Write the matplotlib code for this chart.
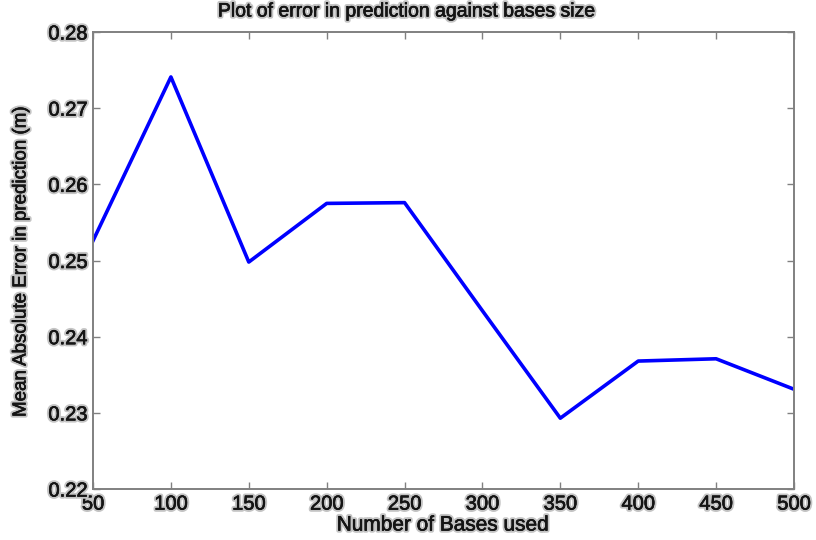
import matplotlib
matplotlib.use("Agg")
import matplotlib.pyplot as plt
import matplotlib.patheffects as pe

bases = [50, 100, 150, 200, 250, 300, 350, 400, 450, 500]
mae = [0.2526, 0.2741, 0.2498, 0.2575, 0.2576, 0.2434, 0.2293, 0.2368, 0.2371, 0.2331]
xticks = [50, 100, 150, 200, 250, 300, 350, 400, 450, 500]
yticks = [0.22, 0.23, 0.24, 0.25, 0.26, 0.27, 0.28]

plt.rcParams['font.family'] = ['Liberation Sans', 'DejaVu Sans']
halo = [pe.withStroke(linewidth=3.2, foreground='#c4c4c4'),
        pe.withStroke(linewidth=0.4, foreground='#151515')]

fig = plt.figure(figsize=(8.16, 5.4), dpi=100)
ax = fig.add_axes([0.114, 0.0944, 0.859, 0.8463])
ax.plot(bases, mae, color='#0000ff', linewidth=2.6)
ax.set_xlim(50, 500)
ax.set_ylim(0.22, 0.28)
ax.set_xticks(xticks)
ax.set_xticklabels([str(v) for v in xticks])
ax.set_yticks(yticks)
ax.set_yticklabels([f"{v:.2f}" for v in yticks])
for s in ax.spines.values():
    s.set_color('#808080')
    s.set_linewidth(1.4)
ax.tick_params(direction='in', length=5, width=1, color='#808080',
               top=True, right=True, labelsize=14.5)
ax.tick_params(axis='x', pad=4)
ax.tick_params(axis='y', pad=4)
for lab in ax.get_xticklabels() + ax.get_yticklabels():
    lab.set_path_effects(halo)
    lab.set_color('#151515')
fig.text(0.5, 1 - 12 / 540, 'Plot of error in prediction against bases size',
         fontsize=14, color='#151515', ha='center', va='center', path_effects=halo)
fig.text(443 / 816, 1 - 525 / 540, 'Number of Bases used', fontsize=15,
         color='#151515', ha='center', va='center', path_effects=halo)
fig.text(21 / 816, 1 - 262 / 540, 'Mean Absolute Error in prediction (m)', fontsize=13.5,
         color='#151515', ha='center', va='center', rotation=90, path_effects=halo)
fig.savefig('out.png', dpi=100, facecolor='white')
